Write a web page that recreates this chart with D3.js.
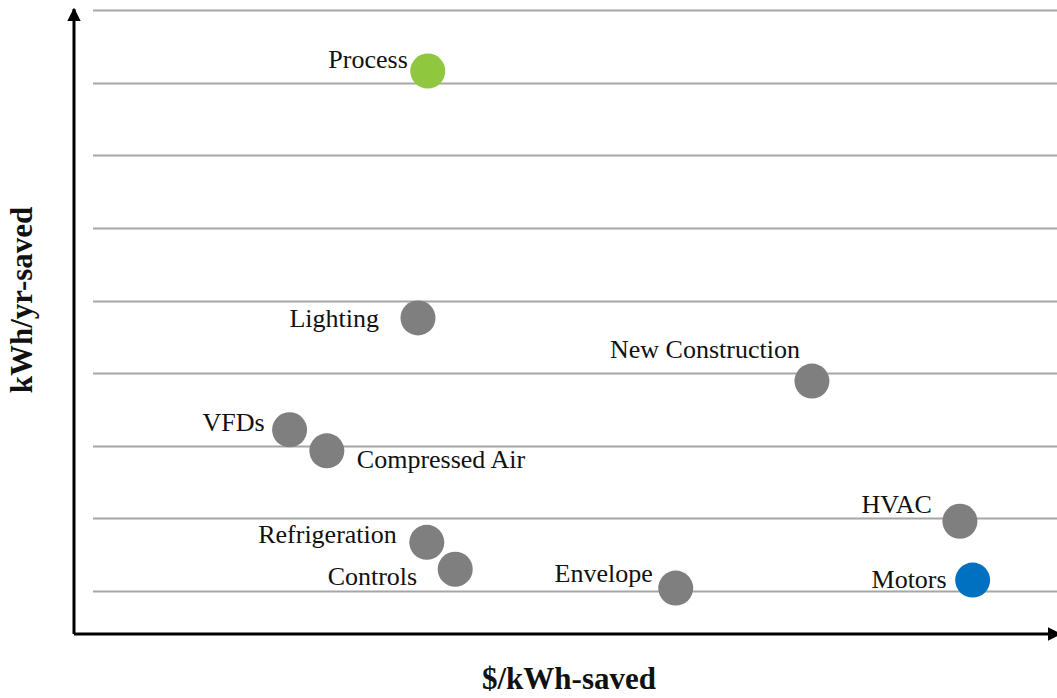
<!DOCTYPE html>
<html>
<head>
<meta charset="utf-8">
<script src="https://cdn.jsdelivr.net/npm/d3@7"></script>
<style>
  body { margin: 0; background: #fff; }
  svg { display: block; }
  text { font-family: "Liberation Serif", "Times New Roman", serif; fill: #111; }
</style>
</head>
<body>
<div id="chart"></div>
<script>
// Width and height
var chart_width  = 1057;
var chart_height = 698;

// Data
var names  = ['Process', 'Lighting', 'New Construction', 'VFDs', 'Compressed Air',
              'HVAC', 'Refrigeration', 'Controls', 'Envelope', 'Motors'];
var cost   = [3.61, 3.51, 7.53, 2.20, 2.58, 9.04, 3.60, 3.89, 6.14, 9.17];   // $/kWh-saved
var saved  = [7.16, 3.76, 2.89, 2.22, 1.93, 0.96, 0.67, 0.30, 0.04, 0.15];   // kWh/yr-saved
var groups = ['green', 'gray', 'gray', 'gray', 'gray', 'gray', 'gray', 'gray', 'gray', 'blue'];
var y_ticks = [0, 1, 2, 3, 4, 5, 6, 7, 8];

var x_title = '$/kWh-saved';
var y_title = 'kWh/yr-saved';

var color = d3.scaleOrdinal()
    .domain(['green', 'gray', 'blue'])
    .range(['#8fc73e', '#7f7f7f', '#0070c0']);

// label placement: anchor, dx, dy from circle centre
var label_pos = {
    'Process':          ['end',   -20, -3],
    'Lighting':         ['end',   -39,  9],
    'New Construction': ['end',   -12, -23],
    'VFDs':             ['end',   -25,  1],
    'Compressed Air':   ['start',  30, 17],
    'HVAC':             ['end',   -28, -8],
    'Refrigeration':    ['end',   -30,  1],
    'Controls':         ['end',   -38, 16],
    'Envelope':         ['end',   -23, -6],
    'Motors':           ['end',   -26,  8]
};

var axis_x = 74, axis_y = 634;

var x = d3.scaleLinear().domain([0, 10]).range([axis_x, 1054]);
var y = d3.scaleLinear().domain([0, 8]).range([591, 10]);

var svg = d3.select('#chart')
    .append('svg')
    .attr('width', chart_width)
    .attr('height', chart_height);

// gridlines
svg.append('g')
    .selectAll('line')
    .data(y_ticks)
    .enter()
    .append('line')
    .attr('x1', 93)
    .attr('x2', chart_width)
    .attr('y1', function(d){ return Math.round(y(d)) + 0.5; })
    .attr('y2', function(d){ return Math.round(y(d)) + 0.5; })
    .attr('stroke', '#a6a6a6')
    .attr('stroke-width', 2.2);

// arrow marker
var defs = svg.append('defs');
defs.append('marker')
    .attr('id', 'arrow')
    .attr('viewBox', '0 0 10 10')
    .attr('refX', 9)
    .attr('refY', 5)
    .attr('markerWidth', 4.6)
    .attr('markerHeight', 4.6)
    .attr('markerUnits', 'strokeWidth')
    .attr('orient', 'auto')
    .append('path')
    .attr('d', 'M0,0 L10,5 L0,10 Z')
    .attr('fill', '#000');

// axes
svg.append('path')
    .attr('d', 'M' + axis_x + ',' + axis_y + ' L' + axis_x + ',9')
    .attr('stroke', '#000')
    .attr('stroke-width', 3)
    .attr('fill', 'none')
    .attr('marker-end', 'url(#arrow)');

svg.append('path')
    .attr('d', 'M' + axis_x + ',' + axis_y + ' L1060,' + axis_y)
    .attr('stroke', '#000')
    .attr('stroke-width', 3)
    .attr('fill', 'none')
    .attr('marker-end', 'url(#arrow)');

// points
var pts = names.map(function(n, i){
    return { name: n, cost: cost[i], saved: saved[i], group: groups[i] };
});

svg.append('g')
    .selectAll('circle')
    .data(pts)
    .enter()
    .append('circle')
    .attr('cx', function(d){ return x(d.cost); })
    .attr('cy', function(d){ return y(d.saved); })
    .attr('r', 17.5)
    .attr('fill', function(d){ return color(d.group); });

svg.append('g')
    .selectAll('text')
    .data(pts)
    .enter()
    .append('text')
    .attr('x', function(d){ return x(d.cost) + label_pos[d.name][1]; })
    .attr('y', function(d){ return y(d.saved) + label_pos[d.name][2]; })
    .attr('text-anchor', function(d){ return label_pos[d.name][0]; })
    .style('font-size', '26px')
    .text(function(d){ return d.name; });

// axis titles
svg.append('text')
    .attr('x', 569)
    .attr('y', 689)
    .attr('text-anchor', 'middle')
    .style('font-size', '31px')
    .style('font-weight', 'bold')
    .text(x_title);

svg.append('text')
    .attr('transform', 'translate(32,300) rotate(-90)')
    .attr('text-anchor', 'middle')
    .style('font-size', '31px')
    .style('font-weight', 'bold')
    .text(y_title);
</script>
</body>
</html>
